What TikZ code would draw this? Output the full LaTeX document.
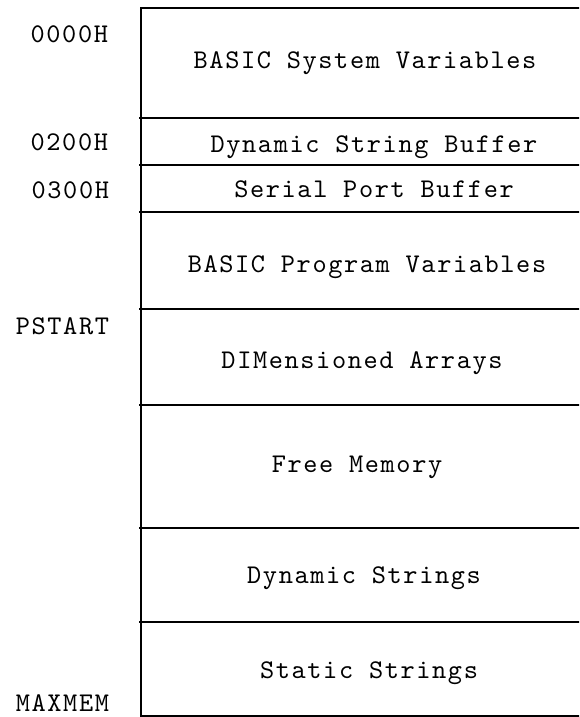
\documentclass[tikz,border=0pt]{standalone}
\usepackage{fontspec}
\newfontfamily\mapfont{lmmono10-regular.otf}[LetterSpace=6]
\usetikzlibrary{positioning}

\tikzset{
  region/.style={font=\mapfont\fontsize{27}{30}\selectfont, anchor=base},
  addr/.style={font=\mapfont\fontsize{27}{30}\selectfont, anchor=base east},
  wall/.style={draw=black, line width=2pt}
}

\begin{document}
\begin{tikzpicture}[y=-1pt, x=1pt, inner sep=0pt, outer sep=0pt]
  \useasboundingbox (0,0) rectangle (579,717);
  \clip (0,0) rectangle (579,717);
  % outline of the map, open to the right
  \path[wall] (595,8) -- (141,8) -- (141,716) -- (595,716);
  \foreach \y in {118,165,212,309,405,528,622}
    \path[wall] (139,\y) -- (595,\y);
  % regions
  \node[region] (sysvar) at (365,68) {BASIC System Variables};
  \node[region] (strbuf) at (374,152) {Dynamic String Buffer};
  \node[region] (serbuf) at (374,197) {Serial Port Buffer};
  \node[region] (progvar) at (367,272) {BASIC Program Variables};
  \node[region] (dimarr) at (362,368) {DIMensioned Arrays};
  \node[region] (freemem) at (357,472) {Free Memory};
  \node[region] (dynstr) at (364,583) {Dynamic Strings};
  \node[region] (statstr) at (369,678) {Static Strings};
  % addresses
  \node[addr] (a0000) at (108,43) {0000H};
  \node[addr] (a0200) at (108,150) {0200H};
  \node[addr] (a0300) at (109,198) {0300H};
  \node[addr] (pstart) at (109,334) {PSTART};
  \node[addr] (maxmem) at (109,711) {MAXMEM};
\end{tikzpicture}
\end{document}
